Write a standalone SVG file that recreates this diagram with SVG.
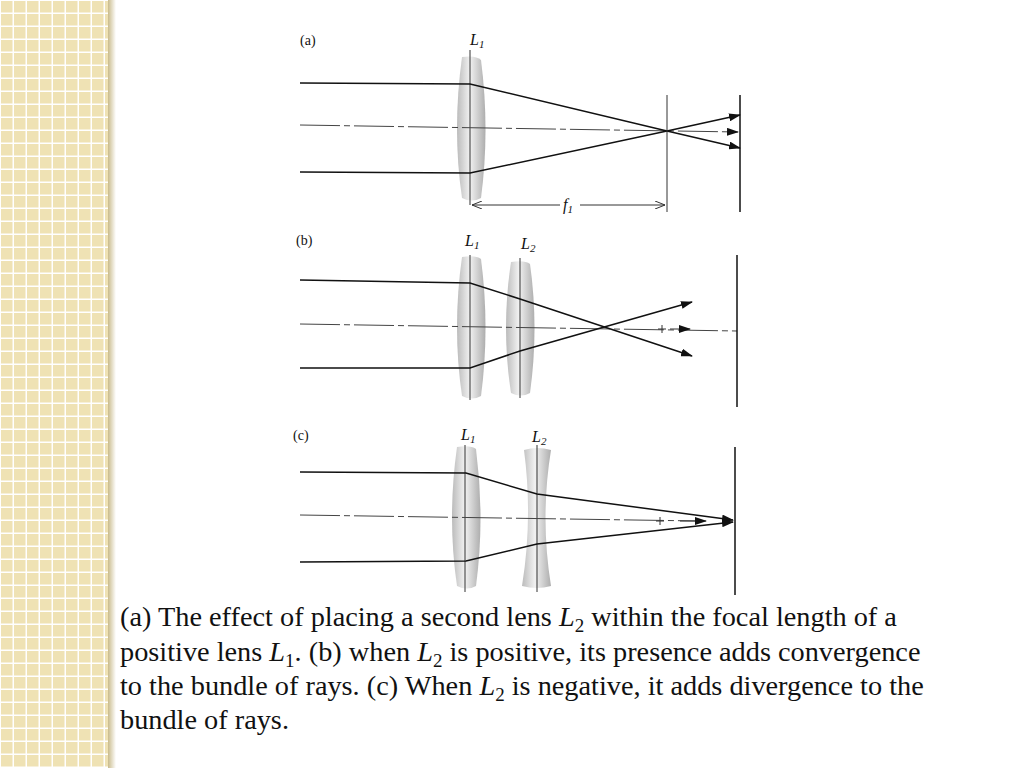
<svg xmlns="http://www.w3.org/2000/svg" width="1024" height="768" viewBox="0 0 1024 768">
<defs>
<pattern id="tile" width="13" height="13" patternUnits="userSpaceOnUse"><rect width="13" height="13" fill="#fff"/><rect x="1" y="1" width="11.5" height="11.5" fill="#efe2b4"/></pattern>
<linearGradient id="sh" x1="0" x2="1"><stop offset="0" stop-color="#c9bb8c"/><stop offset="1" stop-color="#fff"/></linearGradient>
<linearGradient id="lens" x1="0" x2="1"><stop offset="0" stop-color="#aaa"/><stop offset="0.45" stop-color="#eee"/><stop offset="1" stop-color="#999"/></linearGradient>
<marker id="ar" markerWidth="12" markerHeight="8" refX="11" refY="4" orient="auto" markerUnits="userSpaceOnUse"><path d="M0,0 L12,4 L0,8 Z" fill="#111"/></marker>
<marker id="dim" markerWidth="10" markerHeight="8" refX="10" refY="4" orient="auto" markerUnits="userSpaceOnUse"><path d="M0,0 L10,4 L0,8" fill="none" stroke="#333"/></marker>
</defs>
<style>
.ray{fill:none;stroke:#111;stroke-width:1.5}
.ax{fill:none;stroke:#444;stroke-width:1;stroke-dasharray:40 4 6 4}
.thin{stroke:#333;stroke-width:1;fill:none}
.scr{stroke:#111;stroke-width:1.5}
.lab{font-family:"Liberation Serif",serif;font-size:14px;fill:#111}
.it{font-style:italic;font-size:16px}
.cap{font-family:"Liberation Serif",serif;font-size:28.3px;fill:#111}
</style>
<rect width="1024" height="768" fill="#fff"/>
<rect width="110" height="768" fill="url(#tile)"/>
<rect x="108" width="8" height="768" fill="url(#sh)"/>

<g id="lenses">
<path d="M462,57 Q476,55 481,60 Q490,130 481,198 Q472,203 462,198 Q452,130 462,57Z" fill="url(#lens)" opacity="0.8"/>
<path d="M462,257 Q476,255 481,259 Q490,328 481,396 Q472,401 462,396 Q452,328 462,257Z" fill="url(#lens)" opacity="0.8"/>
<path d="M511,262 Q525,260 530,264 Q539,328 530,393 Q521,398 511,393 Q501,328 511,262Z" fill="url(#lens)" opacity="0.8"/>
<path d="M457,447 Q471,445 476,449 Q485,518 476,586 Q467,591 457,586 Q447,518 457,447Z" fill="url(#lens)" opacity="0.8"/>
<path d="M524,450 Q537,446 551,450 Q540,518 551,586 Q537,590 522,586 Q533,518 524,450Z" fill="url(#lens)" opacity="0.8"/>
<line x1="470" y1="50" x2="470" y2="205" class="thin"/>
<line x1="470" y1="255" x2="470" y2="400" class="thin"/>
<line x1="520" y1="258" x2="520" y2="398" class="thin"/>
<line x1="465" y1="445" x2="465" y2="592" class="thin"/>
<line x1="537" y1="445" x2="537" y2="592" class="thin"/>
</g>

<g id="connectors">
<line x1="300" y1="125" x2="738" y2="132" class="ax" marker-end="url(#ar)"/>
<polyline points="300,83 470,84 667,131 740,148" class="ray" marker-end="url(#ar)"/>
<polyline points="300,172 470,173 667,131 740,115" class="ray" marker-end="url(#ar)"/>
<line x1="667" y1="95" x2="667" y2="212" class="thin"/>
<line x1="740" y1="95" x2="740" y2="212" class="scr"/>
<line x1="560" y1="205" x2="472" y2="205" class="thin" marker-end="url(#dim)"/>
<line x1="580" y1="205" x2="665" y2="205" class="thin" marker-end="url(#dim)"/>
<line x1="300" y1="324" x2="737" y2="331" class="ax"/>
<line x1="670" y1="329" x2="690" y2="329" class="thin" marker-end="url(#ar)"/>
<path d="M662,325 V333 M658,329 H666" class="thin"/>
<polyline points="300,280 470,283 520,299 692,356" class="ray" marker-end="url(#ar)"/>
<polyline points="300,368 470,368 520,351 692,302" class="ray" marker-end="url(#ar)"/>
<line x1="737" y1="255" x2="737" y2="407" class="scr"/>
<line x1="300" y1="515" x2="700" y2="521" class="ax"/>
<line x1="680" y1="521" x2="706" y2="521" class="thin" marker-end="url(#ar)"/>
<path d="M660,517 V525 M656,521 H664" class="thin"/>
<polyline points="300,472 466,473 537,494 733,520" class="ray" marker-end="url(#ar)"/>
<polyline points="300,562 466,561 537,544 733,522" class="ray" marker-end="url(#ar)"/>
<line x1="735" y1="447" x2="735" y2="595" class="scr"/>
</g>

<g id="labels">
<text x="300" y="45" class="lab">(a)</text>
<text x="470" y="45" class="lab it">L<tspan font-size="11" dy="3">1</tspan></text>
<text x="563" y="210" class="lab it">f<tspan font-size="11" dy="3">1</tspan></text>
<text x="296" y="245" class="lab">(b)</text>
<text x="465" y="246" class="lab it">L<tspan font-size="11" dy="3">1</tspan></text>
<text x="521" y="249" class="lab it">L<tspan font-size="11" dy="3">2</tspan></text>
<text x="293" y="440" class="lab">(c)</text>
<text x="461" y="440" class="lab it">L<tspan font-size="11" dy="3">1</tspan></text>
<text x="532" y="442" class="lab it">L<tspan font-size="11" dy="3">2</tspan></text>
</g>

<g id="caption" class="cap">
<text x="120" y="626">(a) The effect of placing a second lens <tspan font-style="italic">L</tspan><tspan font-size="19" dy="6">2</tspan><tspan dy="-6"> within the focal length of a</tspan></text>
<text x="120" y="661">positive lens <tspan font-style="italic">L</tspan><tspan font-size="19" dy="6">1</tspan><tspan dy="-6">. (b) when </tspan><tspan font-style="italic">L</tspan><tspan font-size="19" dy="6">2</tspan><tspan dy="-6"> is positive, its presence adds convergence</tspan></text>
<text x="120" y="695">to the bundle of rays. (c) When <tspan font-style="italic">L</tspan><tspan font-size="19" dy="6">2</tspan><tspan dy="-6"> is negative, it adds divergence to the</tspan></text>
<text x="120" y="729">bundle of rays.</text>
</g>
</svg>
